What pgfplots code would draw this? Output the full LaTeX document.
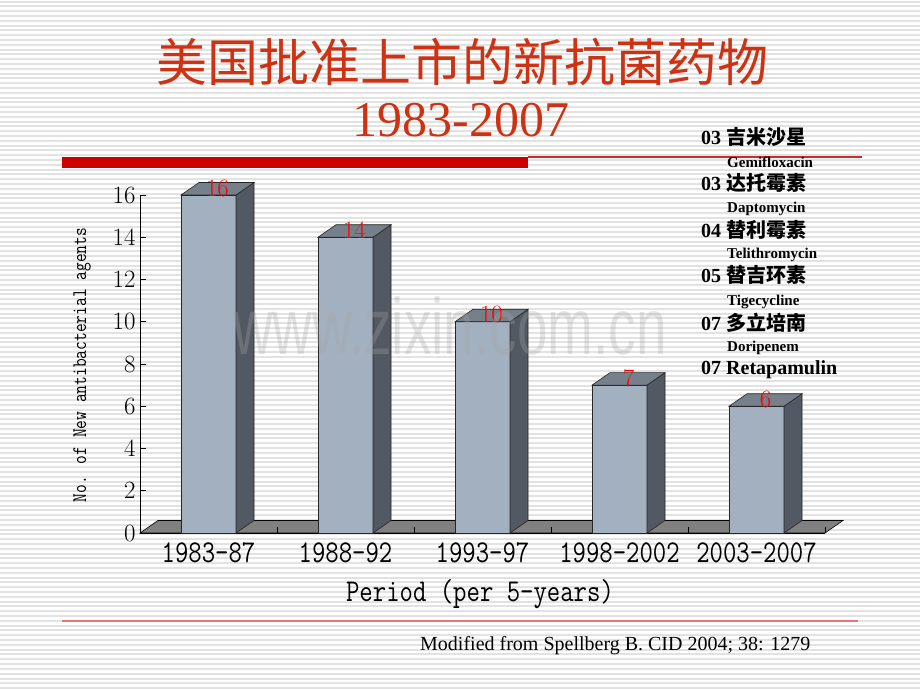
\documentclass[border=0pt]{standalone}
\usepackage{fontspec}
\setmainfont{Liberation Serif}
\newfontfamily\cjk{Noto Sans CJK SC}
\newfontfamily\wmfont{Liberation Sans}
\newfontfamily\labfont{Liberation Serif}[FakeBold=2]
\usepackage{pgfplots}
\usepackage{pgfplotstable}
\pgfplotsset{compat=1.18}

\definecolor{titlered}{RGB}{206,50,18}
\definecolor{barred}{RGB}{204,0,0}
\definecolor{linered}{RGB}{210,40,40}
\definecolor{botline}{RGB}{232,118,118}
\definecolor{stripe}{RGB}{226,226,226}
\definecolor{barfront}{RGB}{162,176,191}
\definecolor{barside}{RGB}{82,89,99}
\definecolor{bartop}{RGB}{118,128,139}
\definecolor{floorc}{RGB}{128,128,128}
\definecolor{labred}{RGB}{255,0,0}

\pgfdeclareplotmark{nothing}{}
\newcommand\tall[1]{\scalebox{1}[1.22]{#1}}

\pgfplotstableread{
x y
0 16
1 14
2 10
3 7
4 6
}\bardata

\begin{document}
\begin{tikzpicture}[x=1pt,y=1pt]
\useasboundingbox (0,0) rectangle (920,690);
\fill[white] (0,0) rectangle (920,690);
\foreach \i in {0,...,143} {\fill[stripe] (0,{689.3-\i*4.8}) rectangle (920,{687.3-\i*4.8});}

% title
\node[font=\cjk\fontsize{51}{51}\selectfont, text=titlered] at (462,628) {美国批准上市的新抗菌药物};
\node[font=\fontsize{50}{50}\selectfont, text=titlered] at (461,570) {1983-2007};
\fill[barred] (62,522) rectangle (528,533);
\draw[linered, line width=1.5pt] (528,533) -- (862,533);

\begin{axis}[
  at={(140pt,157pt)}, anchor=south west,
  x=137pt, y=21.125pt,
  xmin=-0.5, xmax=4.5, ymin=0, ymax=16,
  enlargelimits=false, clip=false,
  axis y line*=left, axis x line*=bottom,
  axis line style={-, black, line width=0.6pt},
  ytick={0,2,...,16}, tick align=inside, major tick length=6pt,
  ytick style={black, line width=0.5pt},
  xtick={0,...,4},
  xticklabels={\tall{1983-87},\tall{1988-92},\tall{1993-97},\tall{1998-2002},\tall{2003-2007}},
  xtick style={draw=none},
  yticklabel style={font=\fontsize{24}{24}\selectfont, xshift=-1pt},
  xticklabel style={font=\ttfamily\fontsize{26}{26}\selectfont, yshift=-6pt},
]
\fill[floorc, draw=black, line width=0.6pt] (axis cs:-0.5,0) -- (axis cs:4.5,0) -- (axis cs:4.6314,0.5917) -- (axis cs:-0.3686,0.5917) -- cycle;
\pgfplotsinvokeforeach{0.5,1.5,2.5,3.5,4.5}{\draw[black, line width=0.6pt] (axis cs:#1,0) -- (axis cs:#1,0.3);}

\addplot[ybar, bar width=55pt, fill=barfront, draw=black!85, line width=0.6pt]
  table[x=x,y=y]{\bardata};

\addplot[scatter, only marks, mark=nothing,
  visualization depends on={\thisrow{y} \as \ry},
  scatter/@pre marker code/.code={%
    \pgfmathsetmacro\hh{-\ry*21.125}%
    \pgfmathsetmacro\hb{12.5-\ry*21.125}%
    \filldraw[fill=barside, draw=black!85, line width=0.6pt] (27.5pt,0pt) -- (27.5pt,\hh pt) -- (45.5pt,\hb pt) -- (45.5pt,12.5pt) -- cycle;
    \filldraw[fill=bartop, draw=black!85, line width=0.6pt] (-27.5pt,0pt) -- (27.5pt,0pt) -- (45.5pt,12.5pt) -- (-9.5pt,12.5pt) -- cycle;
  },
  scatter/@post marker code/.code={},
] table[x=x,y=y]{\bardata};

\addplot[only marks, mark=nothing, point meta=explicit,
  nodes near coords={\labfont\fontsize{26}{26}\selectfont\color{labred}\pgfmathprintnumber{\pgfplotspointmeta}},
  every node near coord/.append style={anchor=center, inner sep=0pt, xshift=9pt, yshift=7pt}
] table[x=x,y=y,meta=y]{\bardata};
\end{axis}

% axis labels
\node[rotate=90, font=\ttfamily\fontsize{17}{17}\selectfont] at (82,325) {\tall{No. of New antibacterial agents}};
\node[font=\ttfamily\fontsize{26}{26}\selectfont] at (480,96) {\tall{Period (per 5-years)}};

% right list
\node[anchor=west, font=\bfseries\fontsize{20}{20}\selectfont, inner sep=0pt] at (701,553) {03 {\cjk 吉米沙星}};
\node[anchor=west, font=\bfseries\fontsize{15}{15}\selectfont, inner sep=0pt] at (727,528) {Gemifloxacin};
\node[anchor=west, font=\bfseries\fontsize{20}{20}\selectfont, inner sep=0pt] at (701,507) {03 {\cjk 达托霉素}};
\node[anchor=west, font=\bfseries\fontsize{15}{15}\selectfont, inner sep=0pt] at (727,481) {Daptomycin};
\node[anchor=west, font=\bfseries\fontsize{20}{20}\selectfont, inner sep=0pt] at (701,460) {04 {\cjk 替利霉素}};
\node[anchor=west, font=\bfseries\fontsize{15}{15}\selectfont, inner sep=0pt] at (727,435) {Telithromycin};
\node[anchor=west, font=\bfseries\fontsize{20}{20}\selectfont, inner sep=0pt] at (701,415) {05 {\cjk 替吉环素}};
\node[anchor=west, font=\bfseries\fontsize{15}{15}\selectfont, inner sep=0pt] at (727,388) {Tigecycline};
\node[anchor=west, font=\bfseries\fontsize{20}{20}\selectfont, inner sep=0pt] at (701,367) {07 {\cjk 多立培南}};
\node[anchor=west, font=\bfseries\fontsize{15}{15}\selectfont, inner sep=0pt] at (727,342) {Doripenem};
\node[anchor=west, font=\bfseries\fontsize{20}{20}\selectfont, inner sep=0pt] at (701,320) {07 Retapamulin};

% citation
\draw[botline, line width=2.5pt] (62,69) -- (858,69);
\node[anchor=west, font=\fontsize{20}{20}\selectfont, inner sep=0pt] at (420,44) {Modified from Spellberg B. CID 2004; 38: 1279};

% watermark
\node[opacity=0.3, text=black!35] at (450,364) {\scalebox{1}[1.45]{\wmfont\fontsize{55}{55}\selectfont www.zixin.com.cn}};
\end{tikzpicture}
\end{document}
